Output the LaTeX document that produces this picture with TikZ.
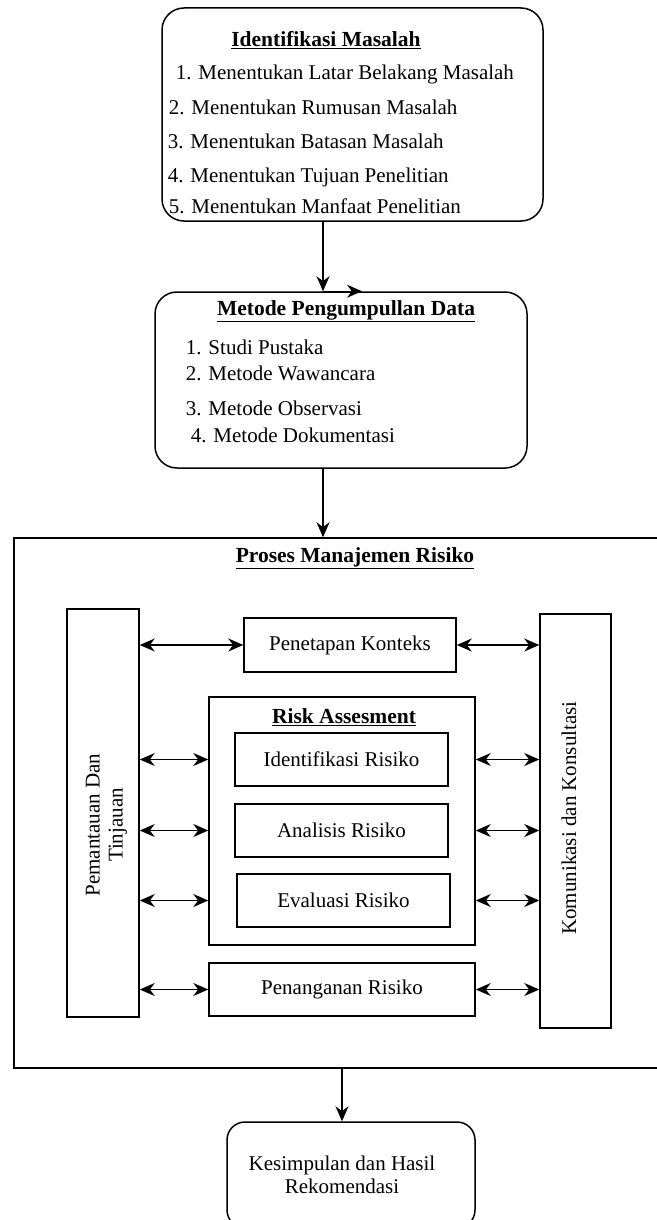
\documentclass[tikz,border=0pt]{standalone}
\usepackage{fontspec}
\setmainfont{Liberation Serif}
\usetikzlibrary{arrows.meta}

\tikzset{
  rbox/.style={draw, rounded corners=22pt, inner sep=0pt},
  sbox/.style={draw, rectangle, inner sep=0pt},
  txt/.style={inner sep=0pt, font=\fontsize{21}{23}\selectfont},
  ttl/.style={inner sep=0pt, font=\fontsize{21.5}{23}\selectfont\bfseries},
  alur/.style={-{Stealth[length=15pt,width=13pt]}},
  dua/.style={{Stealth[length=15pt,width=13pt]}-{Stealth[length=15pt,width=13pt]}},
}

\begin{document}
\begin{tikzpicture}[x=1pt, y=-1pt, line width=1.5pt]
\useasboundingbox (0,0) rectangle (656,1220);

% tahap 1
\node[rbox, minimum width=381pt, minimum height=213pt] (im) at (352.5,114.5) {};
\node[ttl] (imt) at (326,40) {\underline{Identifikasi Masalah}};
\node[txt, anchor=base west] (im1) at (175,80) {1. Menentukan Latar Belakang Masalah};
\node[txt, anchor=base west] (im2) at (168,115) {2. Menentukan Rumusan Masalah};
\node[txt, anchor=base west] (im3) at (167,149) {3. Menentukan Batasan Masalah};
\node[txt, anchor=base west] (im4) at (167,182) {4. Menentukan Tujuan Penelitian};
\node[txt, anchor=base west] (im5) at (168,213) {5. Menentukan Manfaat Penelitian};

% tahap 2
\node[rbox, minimum width=372pt, minimum height=176pt] (mpd) at (341,380) {};
\node[ttl] (mpdt) at (346,311) {\underline{Metode Pengumpullan Data}};
\node[txt, anchor=base west] (mp1) at (185,354) {1. Studi Pustaka};
\node[txt, anchor=base west] (mp2) at (185,380) {2. Metode Wawancara};
\node[txt, anchor=base west] (mp3) at (185,415) {3. Metode Observasi};
\node[txt, anchor=base west] (mp4) at (190,442) {4. Metode Dokumentasi};

% tahap 3
\node[sbox, minimum width=644pt, minimum height=530pt] (prm) at (336,803) {};
\node[ttl] (prmt) at (355,558) {\underline{Proses Manajemen Risiko}};

\node[sbox, minimum width=72pt, minimum height=408pt] (pt) at (103,813) {};
\node[txt, rotate=90, align=center] (ptt) at (106.5,825) {Pemantauan Dan\\Tinjauan};
\node[sbox, minimum width=71pt, minimum height=414pt] (kk) at (575.5,821) {};
\node[txt, rotate=90] (kkt) at (569,818) {Komunikasi dan Konsultasi};

\node[sbox, txt, minimum width=212pt, minimum height=54pt] (pk) at (350,645) {Penetapan Konteks};
\node[sbox, minimum width=266pt, minimum height=248pt] (ra) at (342,821) {};
\node[ttl] (rat) at (344,717) {\underline{Risk Assesment}};
\node[sbox, txt, minimum width=213pt, minimum height=53pt] (idr) at (341.5,759.5) {Identifikasi Risiko};
\node[sbox, txt, minimum width=213pt, minimum height=53pt] (anr) at (341.5,830.5) {Analisis Risiko};
\node[sbox, txt, minimum width=213pt, minimum height=53pt] (evr) at (343.5,900.5) {Evaluasi Risiko};
\node[sbox, txt, minimum width=266pt, minimum height=53pt] (pr) at (342,989.5) {Penanganan Risiko};

% tahap 4
\node[rbox, rounded corners=18pt, minimum width=248pt, minimum height=106pt] (ks) at (351,1175) {};
\node[txt, align=center] (kst) at (342,1175) {Kesimpulan dan Hasil\\Rekomendasi};

% alur
\coordinate (ax) at (323,0);
\draw[alur] (im.south -| ax) -- (mpd.north -| ax);
\draw[alur] (mpd.north -| ax) -- ++(39,0);
\draw[alur] (mpd.south -| ax) -- (prm.north -| ax);
\draw[alur] (prm.south -| kst) -- (ks.north -| kst);

\draw[dua] (pt.east |- pk) -- (pk.west);
\draw[dua] (pk.east) -- (kk.west |- pk);
\draw[dua] (pt.east |- idr) -- (ra.west |- idr);
\draw[dua] (ra.east |- idr) -- (kk.west |- idr);
\draw[dua] (pt.east |- anr) -- (ra.west |- anr);
\draw[dua] (ra.east |- anr) -- (kk.west |- anr);
\draw[dua] (pt.east |- evr) -- (ra.west |- evr);
\draw[dua] (ra.east |- evr) -- (kk.west |- evr);
\draw[dua] (pt.east |- pr) -- (pr.west);
\draw[dua] (pr.east) -- (kk.west |- pr);
\end{tikzpicture}
\end{document}
